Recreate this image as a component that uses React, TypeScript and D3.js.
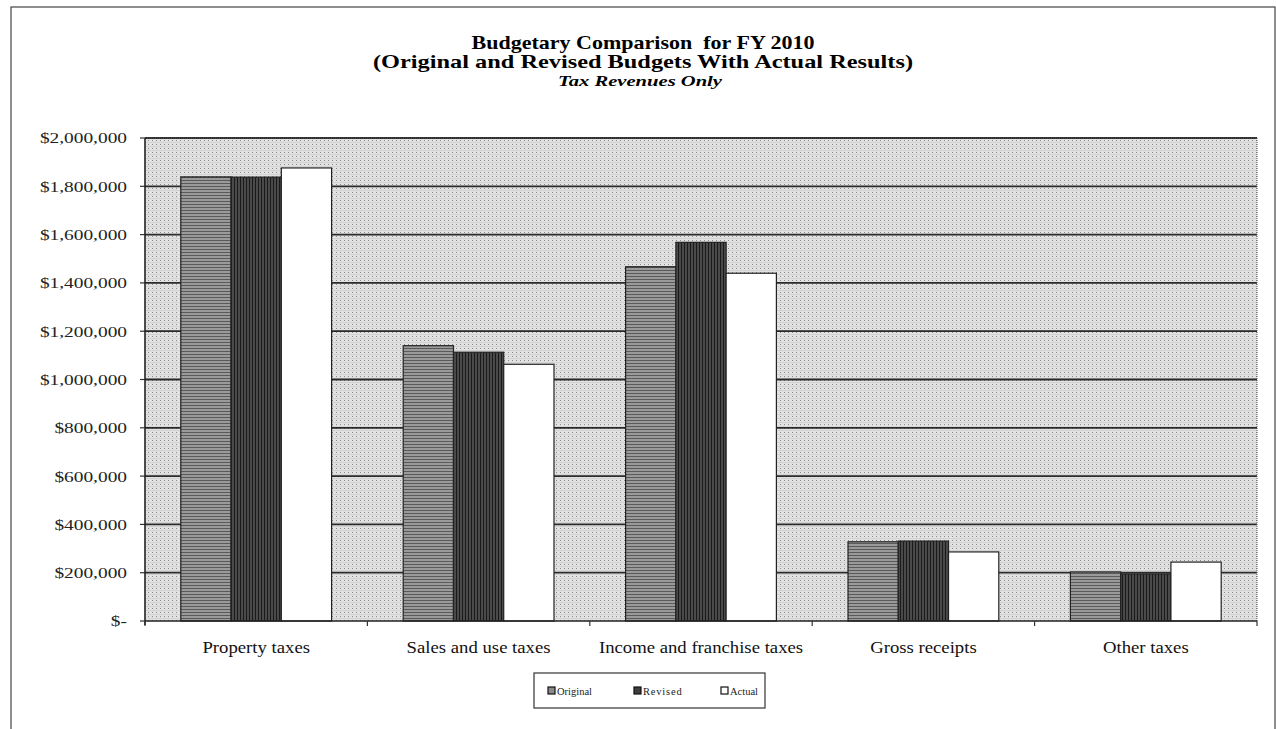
import React from "react";
import * as d3 from "d3";

const categories = ["Property taxes", "Sales and use taxes", "Income and franchise taxes", "Gross receipts", "Other taxes"];
const seriesNames = ["Original", "Revised", "Actual"];
const originalValues = [1839000, 1140000, 1467000, 328000, 203000];
const revisedValues = [1838000, 1113000, 1568000, 331000, 195000];
const actualValues = [1876000, 1063000, 1440000, 286000, 244000];
const yTicks = [0, 200000, 400000, 600000, 800000, 1000000, 1200000, 1400000, 1600000, 1800000, 2000000];
const titleLines = ["Budgetary Comparison\u00a0 for FY 2010", "(Original and Revised Budgets With Actual Results)"];
const subtitle = "Tax Revenues Only";

const fills = ["#8a8a8a", "#3e3e3e", "#ffffff"];

export default function App() {
  const W = 1276, H = 729;
  const left = 145, right = 1257, top = 138, bottom = 621;
  const x = d3.scaleBand<string>().domain(categories).range([left, right]).padding(0);
  const bandW = x.bandwidth();
  const groupW = bandW * 0.678;
  const xs = d3.scaleBand<string>().domain(seriesNames).range([0, groupW]).padding(0);
  const y = d3.scaleLinear().domain([0, 2000000]).range([bottom, top]);
  const series = [originalValues, revisedValues, actualValues];
  const fmt = (v: number) => (v === 0 ? "$-" : "$" + d3.format(",")(v));
  const font = "'Liberation Serif', 'Times New Roman', serif";

  return (
    <svg width={W} height={H} style={{ position: "absolute", left: 0, top: 0, background: "#fff" }}>
      <defs>
        <pattern id="bgpat" width="4" height="4" patternUnits="userSpaceOnUse">
          <rect width="4" height="4" fill="#e2e2e2" />
          <rect x="0" y="0" width="1" height="1" fill="#8a8a8a" />
          <rect x="2" y="2" width="1" height="1" fill="#a0a0a0" />
          <rect x="0" y="2" width="4" height="1" fill="#d2d2d2" />
        </pattern>
        <pattern id="origpat" width="3" height="3" patternUnits="userSpaceOnUse">
          <rect width="3" height="3" fill="#9a9a9a" />
          <rect x="0" y="0" width="3" height="1" fill="#5a5a5a" />
        </pattern>
        <pattern id="revpat" width="3" height="3" patternUnits="userSpaceOnUse">
          <rect width="3" height="3" fill="#4a4a4a" />
          <rect x="0" y="0" width="1" height="3" fill="#1a1a1a" />
        </pattern>
      </defs>
      <rect x={11} y={7} width={1264} height={740} fill="#fff" stroke="#444" strokeWidth={1.2} />
      <g fontFamily={font} fontWeight="bold" textAnchor="middle" fill="#000">
        <text x={643} y={49} fontSize={19} textLength={343} lengthAdjust="spacingAndGlyphs">{titleLines[0]}</text>
        <text x={643} y={68} fontSize={19} textLength={540} lengthAdjust="spacingAndGlyphs">{titleLines[1]}</text>
        <text x={640} y={86} fontSize={15.5} fontStyle="italic" textLength={164} lengthAdjust="spacingAndGlyphs">{subtitle}</text>
      </g>
      <rect x={left} y={top} width={right - left} height={bottom - top} fill="url(#bgpat)" />
      {yTicks.map((t) => (
        <g key={t}>
          {t > 0 && <line x1={left} x2={right} y1={y(t)} y2={y(t)} stroke="#2a2a2a" strokeWidth={1.8} />}
          <line x1={left - 5} x2={left} y1={y(t)} y2={y(t)} stroke="#333" strokeWidth={1.2} />
          <text transform={`translate(127,${y(t)}) scale(1.25,1)`} dy="0.35em" textAnchor="end" fontFamily={font} fontSize={15.5} fill="#222">{fmt(t)}</text>
        </g>
      ))}
      <line x1={left} x2={right} y1={top} y2={top} stroke="#555" strokeWidth={1} strokeDasharray="1 1" />
      <line x1={right} x2={right} y1={top} y2={bottom} stroke="#555" strokeWidth={1} strokeDasharray="1 1" />
      {categories.map((c, ci) => (
        <g key={c}>
          {series.map((vals, si) => {
            const bx = (x(c) as number) + (bandW - groupW) / 2 + (xs(seriesNames[si]) as number);
            return (
              <rect key={si} x={bx} y={y(vals[ci])} width={xs.bandwidth()} height={y(0) - y(vals[ci])}
                fill={si === 0 ? "url(#origpat)" : si === 1 ? "url(#revpat)" : fills[2]} stroke="#222" strokeWidth={1.2} />
            );
          })}
          <text transform={`translate(${(x(c) as number) + bandW / 2},653) scale(1.17,1)`} textAnchor="middle" fontFamily={font} fontSize={16} fill="#111">{c}</text>
        </g>
      ))}
      <line x1={left} x2={left} y1={top} y2={bottom + 4} stroke="#222" strokeWidth={1.6} />
      <line x1={left} x2={right} y1={bottom} y2={bottom} stroke="#222" strokeWidth={1.6} />
      {[...categories.map((c) => x(c) as number), right].map((tx, i) => (
        <line key={i} x1={tx} x2={tx} y1={bottom} y2={bottom + 5} stroke="#333" strokeWidth={1.2} />
      ))}
      <rect x={534} y={673} width={231} height={35} fill="#fff" stroke="#333" strokeWidth={1.2} />
      {seriesNames.map((s, i) => {
        const lx = [552, 638, 725][i];
        return (
          <g key={s}>
            <rect x={lx - 4} y={687} width={7} height={7} fill={fills[i]} stroke="#111" strokeWidth={1.2} />
            <text x={lx + 5} y={691} dy="0.35em" fontFamily={font} fontSize={10.5} letterSpacing={i === 1 ? 0.8 : 0} fill="#222">{s}</text>
          </g>
        );
      })}
    </svg>
  );
}
